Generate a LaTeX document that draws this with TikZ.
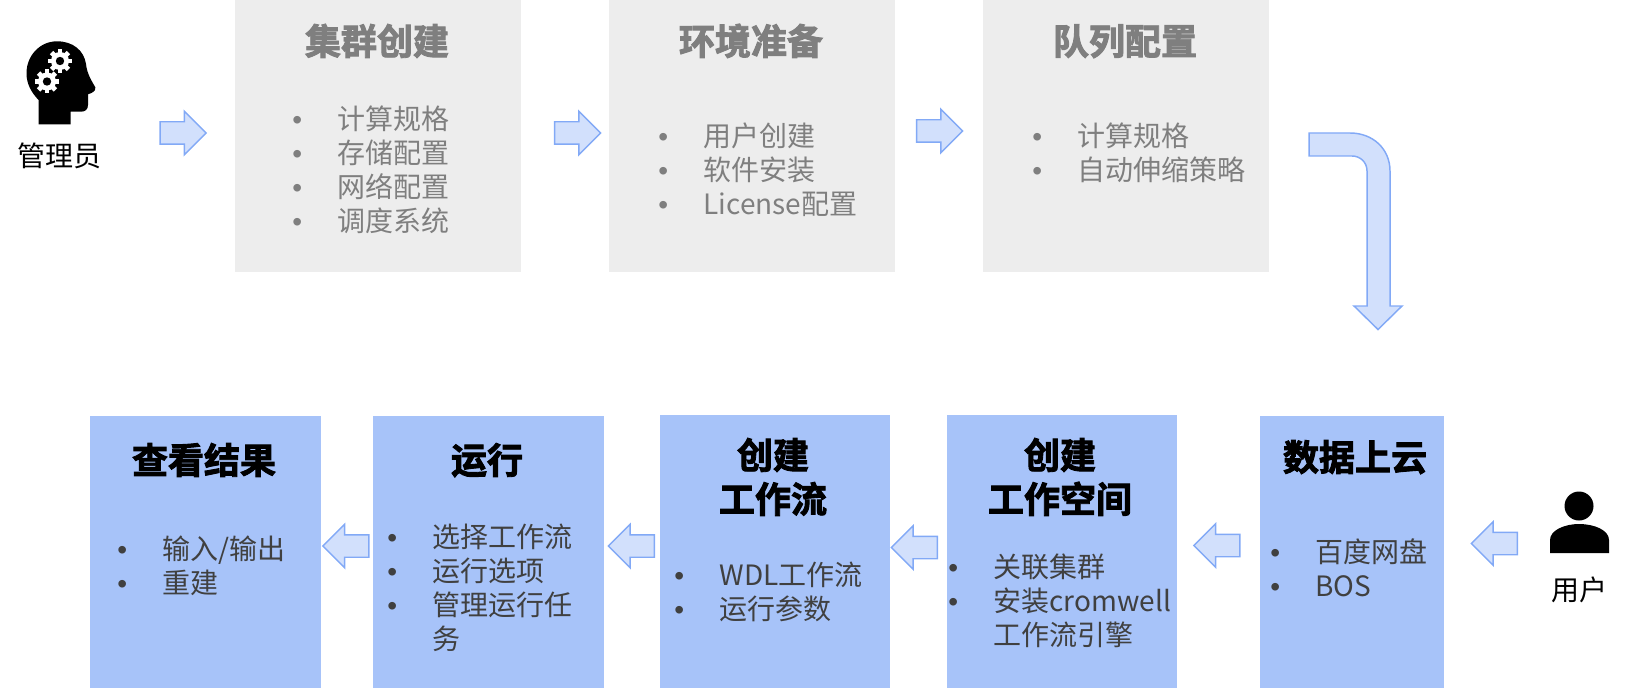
\documentclass[tikz,border=0pt]{standalone}
\usepackage{fontspec}
\usetikzlibrary{shapes.arrows}
\setmainfont[BoldFont={Noto Sans CJK SC Bold},BoldFeatures={FakeBold=2.5}]{Noto Sans CJK SC}
\newfontfamily\dotfont{Liberation Sans}
\definecolor{panelgray}{HTML}{EDEDED}
\definecolor{panelblue}{HTML}{A7C3F9}
\definecolor{arrowfill}{HTML}{D2E0FC}
\definecolor{arrowline}{HTML}{82A9F6}
\definecolor{graytext}{HTML}{7F7F7F}
\definecolor{darktext}{HTML}{404040}
% Bullet column of a list line, followed by the line's text
\newcommand{\bul}{\makebox[30.2pt][l]{\hspace{-3.7pt}{\dotfont •}}}
\newcommand{\nobul}{\makebox[30.2pt][l]{}}
\tikzset{
  x=0.75pt, y=-0.75pt,
  panel/.style={anchor=north west, inner sep=0pt, outer sep=0pt},
  graypanel/.style={panel, fill=panelgray, minimum width=286*0.75pt, minimum height=272*0.75pt},
  bluepanel/.style={panel, fill=panelblue, minimum height=272*0.75pt},
  headline/.style={inner sep=0pt, font=\fontsize{27}{27}\selectfont\bfseries, text height=23.6pt, text depth=3.1pt},
  grayhead/.style={headline, text=graytext},
  bluehead/.style={headline, text=black},
  itemline/.style={anchor=west, inner sep=0pt, font=\fontsize{21}{21}\selectfont, text height=18.6pt, text depth=2.6pt},
  grayitem/.style={itemline, text=graytext},
  blueitem/.style={itemline, text=darktext},
  iconlabel/.style={inner sep=0pt, text=black, font=\fontsize{21}{21}\selectfont},
  blockarrow/.style={single arrow, draw=arrowline, fill=arrowfill, line width=1.1pt,
    inner xsep=0pt, inner ysep=10.5*0.75pt, outer sep=0pt,
    minimum height=46*0.75pt, single arrow head extend=10.5*0.75pt,
    single arrow tip angle=90, anchor=center},
  rightarrow/.style={blockarrow},
  leftarrow/.style={blockarrow, shape border rotate=180},
}
\begin{document}
\begin{tikzpicture}
\useasboundingbox (0,0) rectangle (1626,688);

% Administrator steps
\node[graypanel] (cluster) at (235,0) {};
\node[graypanel] (env) at (609,0) {};
\node[graypanel] (queue) at (983,0) {};

\node[grayhead] (clusterT) at (377,41) {集群创建};
\node[grayitem] (c1) at (297,119) {\bul 计算规格};
\node[grayitem] (c2) at (297,153) {\bul 存储配置};
\node[grayitem] (c3) at (297,187) {\bul 网络配置};
\node[grayitem] (c4) at (297,221) {\bul 调度系统};

\node[grayhead] (envT) at (751,41) {环境准备};
\node[grayitem] (e1) at (663,136) {\bul 用户创建};
\node[grayitem] (e2) at (663,170) {\bul 软件安装};
\node[grayitem] (e3) at (663,204) {\bul License配置};

\node[grayhead] (queueT) at (1125,41) {队列配置};
\node[grayitem] (q1) at (1037,136) {\bul 计算规格};
\node[grayitem] (q2) at (1037,170) {\bul 自动伸缩策略};

% User steps
\node[bluepanel, minimum width=231*0.75pt] (result) at (90,416) {};
\node[bluepanel, minimum width=231*0.75pt] (run) at (373,416) {};
\node[bluepanel, minimum width=230*0.75pt, minimum height=273*0.75pt] (flow) at (660,415) {};
\node[bluepanel, minimum width=230*0.75pt, minimum height=273*0.75pt] (space) at (947,415) {};
\node[bluepanel, minimum width=184*0.75pt] (data) at (1260,416) {};

\node[bluehead] (resultT) at (204,460) {查看结果};
\node[blueitem] (r1) at (122,549) {\bul 输入/输出};
\node[blueitem] (r2) at (122,583) {\bul 重建};

\node[bluehead] (runT) at (487,460) {运行};
\node[blueitem] (u1) at (392,537) {\bul 选择工作流};
\node[blueitem] (u2) at (392,571) {\bul 运行选项};
\node[blueitem] (u3) at (392,605) {\bul 管理运行任};
\node[blueitem] (u4) at (392,639) {\nobul 务};

\node[bluehead] (flowT) at (773,455) {创建};
\node[bluehead] (flowU) at (773,499) {工作流};
\node[blueitem] (f1) at (679,575) {\bul WDL工作流};
\node[blueitem] (f2) at (679,609) {\bul 运行参数};

\node[bluehead] (spaceT) at (1060,455) {创建};
\node[bluehead] (spaceU) at (1060,499) {工作空间};
\node[blueitem] (s1) at (953,567) {\bul 关联集群};
\node[blueitem] (s2) at (953,601) {\bul 安装cromwell};
\node[blueitem] (s3) at (953,635) {\nobul 工作流引擎};

\node[bluehead] (dataT) at (1355,457) {数据上云};
\node[blueitem] (d1) at (1275,552) {\bul 百度网盘};
\node[blueitem] (d2) at (1275,586) {\bul BOS};

% Block arrows along the flow
\node[rightarrow] (a1) at (177.5,133) {};
\node[rightarrow] (a2) at (572,133) {};
\node[rightarrow] (a3) at (934,131) {};
\node[leftarrow] (a4) at (1500,543.5) {};
\node[leftarrow] (a5) at (1222.5,545.5) {};
\node[leftarrow] (a6) at (920,547.5) {};
\node[leftarrow] (a7) at (637,546) {};
\node[leftarrow] (a8) at (351.5,546) {};

% Bent arrow from the queue step down to the data step
\draw[draw=arrowline, fill=arrowfill, line width=1.1pt, line join=miter]
  (1309,133) -- (1350,133)
  .. controls (1373,133) and (1390,149) .. (1390,171)
  -- (1390,306) -- (1402,306) -- (1378,329.5) -- (1354,306) -- (1367,306)
  -- (1367,171)
  .. controls (1367,162) and (1360,156) .. (1352,156)
  -- (1309,156) -- cycle;

% Administrator icon: head with two gears
\fill[black] (38.5,124.3) -- (38.5,100)
  .. controls (31,92) and (26.5,83.5) .. (26.5,73.3)
  .. controls (26.5,55.5) and (40,41.3) .. (57,41.3)
  .. controls (73,41.3) and (84,50.5) .. (86,64)
  .. controls (87,74) and (92,81.5) .. (95.4,87.4)
  .. controls (96,91.5) and (91,93.5) .. (88,94.2)
  -- (88,104.9)
  .. controls (88,109.7) and (85,111.7) .. (81,111.7)
  -- (70.5,111.7) -- (70.5,124.3) -- cycle;
\foreach \cx/\cy in {60/61, 47/81.5} {
  \fill[white] (\cx,\cy) circle[radius=9];
  \foreach \a in {0,45,...,315}
    \fill[white, shift={(\cx,\cy)}, rotate=\a] (-2.4,-2) rectangle (2.4,12);
  \fill[black] (\cx,\cy) circle[radius=4.2];
}
\node[iconlabel] (admin) at (59.5,156) {管理员};

% User icon
\fill[black] (1579,506) circle[radius=14.5];
\fill[black] (1550,553) -- (1550,540)
  .. controls (1550,530) and (1565,524) .. (1579,524)
  .. controls (1594,524) and (1609,530) .. (1609,540)
  -- (1609,553) -- cycle;
\node[iconlabel] (user) at (1579,590) {用户};
\end{tikzpicture}
\end{document}
